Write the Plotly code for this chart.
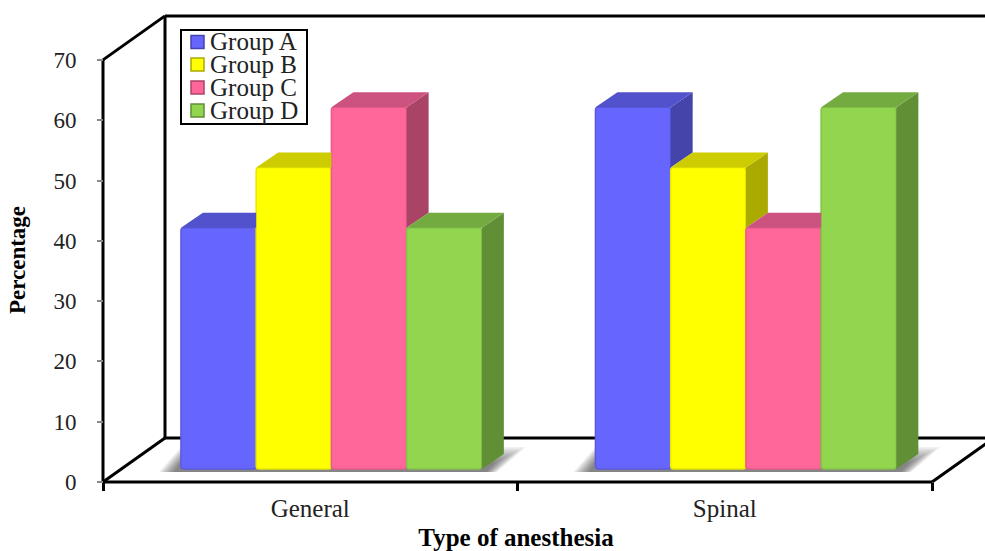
import plotly.graph_objects as go

# ---- data ----
categories = ["General", "Spinal"]
group_names = ["Group A", "Group B", "Group C", "Group D"]
group_a = [40, 60]
group_b = [50, 50]
group_c = [60, 40]
group_d = [40, 60]
series = [group_a, group_b, group_c, group_d]
y_ticks = [0, 10, 20, 30, 40, 50, 60, 70]

# ---- style ----
front = ["#6666FF", "#FFFF00", "#FF6699", "#92D650"]
edge = ["#5A5AE0", "#E8E800", "#E85C8B", "#84C248"]
top = ["#5252CC", "#CCCC00", "#CC5280", "#74AB40"]
side = ["#4444AA", "#AAAA00", "#AA4466", "#608F36"]
FONT = "Liberation Serif"
W, H = 985, 551

# pixel geometry of the plot frame
PX_X0, PX_UNIT = 103.0, 414.5   # x=0 pixel, pixels per category
PX_Y0, PX_V = 482.0, 6.03       # value 0 pixel, pixels per value unit
L, R, T, B = 47, 985, 5, 515    # plot-area pixels

dx = lambda px: px / PX_UNIT
dv = lambda px: px / PX_V
x_range = [(L - PX_X0) / PX_UNIT, (R - PX_X0) / PX_UNIT]
y_range = [(PX_Y0 - B) / PX_V, (PX_Y0 - T) / PX_V]

CENTER_OFFSET = 0.551
BAR_W = 0.1815
BASE = dv(13)             # the bars stand part way back on the floor
DEPTH_X, DEPTH_Y = dx(22), dv(15)
BACK_X, BACK_Y = dx(62), dv(44)

centers = [i + CENTER_OFFSET for i in range(len(categories))]
n = len(series)

fig = go.Figure()

# front faces
for s, vals in enumerate(series):
    fig.add_trace(go.Bar(
        x=centers, y=vals, base=BASE, name=group_names[s], showlegend=False,
        marker=dict(color=front[s], line=dict(color=edge[s], width=1.5)),
    ))

# top and side faces, trimmed where the next bar hides them
for c, ctr in enumerate(centers):
    for s in range(n):
        v = series[s][c]
        nxt = series[s + 1][c] if s + 1 < n else None
        x0 = ctr - n * BAR_W / 2 + s * BAR_W
        x1 = x0 + BAR_W
        y = BASE + v
        # side
        low = 0 if nxt is None else nxt
        if low < v:
            fig.add_trace(go.Scatter(
                x=[x1, x1 + DEPTH_X, x1 + DEPTH_X, x1, x1],
                y=[y, y + DEPTH_Y, BASE + low + DEPTH_Y, BASE + low, y],
                mode="lines", fill="toself", fillcolor=side[s],
                line=dict(width=0), hoverinfo="skip", showlegend=False))
        # top
        if nxt is not None and nxt > v:
            xs = [x0, x1, x1, x0 + DEPTH_X, x0]
            ys = [y, y, y + DEPTH_Y, y + DEPTH_Y, y]
        else:
            xs = [x0, x1, x1 + DEPTH_X, x0 + DEPTH_X, x0]
            ys = [y, y, y + DEPTH_Y, y + DEPTH_Y, y]
        fig.add_trace(go.Scatter(
            x=xs, y=ys, mode="lines", fill="toself", fillcolor=top[s],
            line=dict(width=0), hoverinfo="skip", showlegend=False))

shapes = []

def frame_line(x0, y0, x1, y1):
    shapes.append(dict(type="line", xref="x", yref="y", x0=x0, y0=y0, x1=x1, y1=y1,
                       line=dict(color="black", width=3), layer="below"))

vmax = y_ticks[-1]
xmax = len(categories)
frame_line(0, 0, 0, vmax)
frame_line(0, 0, xmax, 0)
frame_line(0, vmax, BACK_X, vmax + BACK_Y)
frame_line(0, 0, BACK_X, BACK_Y)
frame_line(xmax, 0, xmax + BACK_X, BACK_Y)
frame_line(BACK_X, BACK_Y, BACK_X, vmax + BACK_Y)
frame_line(BACK_X, vmax + BACK_Y, x_range[1] + 0.01, vmax + BACK_Y)
frame_line(BACK_X, BACK_Y, x_range[1] + 0.01, BACK_Y)

# soft floor shadows, built up from many faint layers
SHADOW_STEPS = [1.0, 0.93, 0.86, 0.79, 0.72, 0.65, 0.58, 0.51, 0.44, 0.37, 0.30]
for ctr in centers:
    xl = ctr - n * BAR_W / 2
    xr = ctr + n * BAR_W / 2
    for grow in SHADOW_STEPS:
        yb = BASE - dv(3)
        yt = BASE + dv(22 * grow)
        ax = xl - dx(22 * grow)
        bx = xr + dx(15 * grow)
        cx = xr + dx(44 * grow)
        path = f"M {ax},{yb} L {bx},{yb} L {cx},{yt} L {xl},{yt} Z"
        shapes.append(dict(type="path", xref="x", yref="y", path=path,
                           fillcolor="#000000", opacity=0.055, line=dict(width=0), layer="below"))

# legend box, drawn by hand to keep the tight row spacing of the original
px = lambda v: v / W
py = lambda v: 1 - v / H
shapes.append(dict(type="rect", xref="paper", yref="paper",
                   x0=px(181), x1=px(307), y0=py(124), y1=py(30),
                   line=dict(color="black", width=2), fillcolor="white", layer="above"))
annotations = []
row_y = [42, 64.5, 87.5, 110.5]
for s, name in enumerate(group_names):
    yc = row_y[s]
    shapes.append(dict(type="rect", xref="paper", yref="paper",
                       x0=px(191), x1=px(204), y0=py(yc + 6.5), y1=py(yc - 6.5),
                       fillcolor=front[s], line=dict(color=side[s], width=1.5), layer="above"))
    annotations.append(dict(text=name, xref="paper", yref="paper", x=px(208), y=py(yc),
                            xanchor="left", yanchor="middle", showarrow=False,
                            font=dict(family=FONT, size=25, color="#222222")))

fig.update_layout(
    width=W, height=H, autosize=False,
    margin=dict(l=0, r=0, t=0, b=0),
    paper_bgcolor="white", plot_bgcolor="rgba(0,0,0,0)",
    barmode="group", bargap=1 - n * BAR_W, bargroupgap=0, barcornerradius=3,
    showlegend=False,
    shapes=shapes, annotations=annotations,
    xaxis=dict(
        domain=[L / W, R / W], range=x_range, showgrid=False, zeroline=False, showline=False,
        anchor="free", position=(H - PX_Y0) / H, automargin=False,
        tickmode="array", tickvals=[i + 0.5 for i in range(len(categories))], ticktext=categories,
        ticks="", ticklabelstandoff=9,
        tickfont=dict(family=FONT, size=25, color="#222222"),
        minor=dict(tickmode="array", tickvals=list(range(len(categories) + 1)),
                   ticks="outside", ticklen=8, tickwidth=3, tickcolor="black", showgrid=False),
        title=dict(text="<b>Type of anesthesia</b>", standoff=15,
                   font=dict(family=FONT, size=25, color="black")),
    ),
    yaxis=dict(
        domain=[(H - B) / H, (H - T) / H], range=y_range, showgrid=False, zeroline=False, showline=False,
        anchor="free", position=PX_X0 / W, automargin=False,
        tickmode="array", tickvals=y_ticks,
        ticks="outside", ticklen=6, tickwidth=1.5, tickcolor="#888888", ticklabelstandoff=16,
        tickfont=dict(family=FONT, size=23, color="#222222"),
        title=dict(text="<b>Percentage</b>", standoff=20,
                   font=dict(family=FONT, size=23, color="black")),
    ),
)

fig.write_html("out.html", config=dict(displayModeBar=False),
               post_script="document.body.style.margin='0';")
